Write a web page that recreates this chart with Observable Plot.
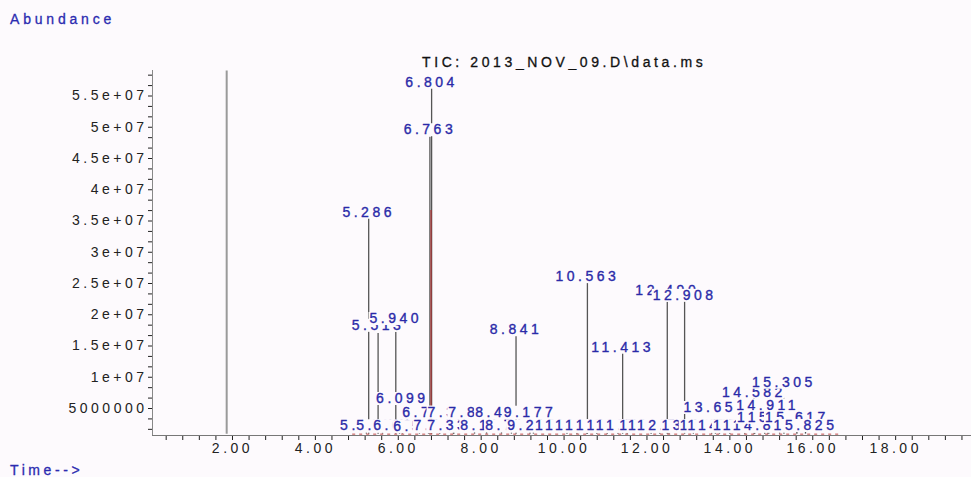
<!DOCTYPE html>
<html><head><meta charset="utf-8">
<script src="https://cdn.jsdelivr.net/npm/d3@7"></script>
<script src="https://cdn.jsdelivr.net/npm/@observablehq/plot@0.6"></script>
<style>
html,body{margin:0;padding:0;background:#fdfafd;}
#wrap{position:relative;width:971px;height:477px;overflow:hidden;font-family:"Liberation Sans",Arial,sans-serif;}
#chart svg{display:block;}
#chart svg text{letter-spacing:3.5px;}
.lbl{position:absolute;font-size:14px;line-height:16px;letter-spacing:3.6px;white-space:nowrap;-webkit-text-stroke:0.3px currentColor;}
</style></head><body>
<div id="wrap">
<div id="chart"></div>
<div class="lbl" style="left:10px;top:11px;color:#2b2bb0;letter-spacing:3.8px">Abundance</div>
<div class="lbl" style="left:10px;top:462px;color:#2b2bb0">Time--&gt;</div>
<div class="lbl" style="left:422px;top:54px;color:#111">TIC: 2013_NOV_09.D\data.ms</div>
</div>
<script>
// Labelled peaks: retention time (min), apex abundance, label anchor (abundance units)
const peakTimes   = [1.86, 5.286, 5.513, 5.940, 6.099, 6.763, 6.804, 8.841, 9.177, 10.563, 11.413, 12.490, 12.908, 13.651, 14.582, 14.911, 15.305, 15.617, 15.825];
const peakHeights = [59.0e6, 35.4e6, 17.0e6, 17.2e6, 3.0e6, 48.4e6, 56.2e6, 16.7e6, 2.0e6, 25.0e6, 13.85e6, 22.0e6, 22.4e6, 1.8e6, 6.6e6, 3.5e6, 6.75e6, 2.0e6, 1.2e6];
const peakLabelAt = [null, 36.4e6, 18.3e6, 19.4e6, 6.6e6, 49.6e6, 57.2e6, 17.6e6, 4.36e6, 26.1e6, 14.8e6, 23.8e6, 23.1e6, 5.16e6, 7.6e6, 5.48e6, 9.2e6, 3.6e6, 2.28e6];

// Small integrated peaks whose labels crowd near the baseline
const minorTimes   = [5.23, 5.62, 6.03, 6.51, 7.00, 7.33, 8.13, 8.73, 9.26, 10.07, 10.31, 10.55, 10.79, 11.04, 11.30, 11.52, 12.10, 12.31, 12.53, 13.12, 13.56, 13.75, 14.00, 14.36, 14.60, 14.84, 6.73, 7.34, 7.84, 8.49, 14.94, 15.20];
const minorLabelAt = [2.2e6, 2.2e6, 2.2e6, 2.1e6, 2.2e6, 2.2e6, 2.3e6, 2.2e6, 2.2e6, 2.2e6, 2.2e6, 2.2e6, 2.2e6, 2.2e6, 2.2e6, 2.2e6, 2.2e6, 2.2e6, 2.2e6, 2.2e6, 2.2e6, 2.2e6, 2.2e6, 2.2e6, 2.2e6, 2.2e6, 4.4e6, 4.4e6, 4.4e6, 4.4e6, 3.6e6, 3.6e6];
const minorHeights = [1.3e6, 1.3e6, 1.2e6, 1.2e6, 1.2e6, 1.2e6, 1.3e6, 1.2e6, 1.2e6, 1.2e6, 1.2e6, 1.2e6, 1.2e6, 1.2e6, 1.2e6, 1.2e6, 1.1e6, 1.1e6, 1.1e6, 1.1e6, 1.2e6, 1.2e6, 1.2e6, 1.2e6, 1.2e6, 1.2e6, 2.0e6, 1.8e6, 1.6e6, 1.6e6, 1.8e6, 1.8e6];

// Integration marker and baseline
const markerTimes = [6.79];
const markerTops = [36.7e6];
const baselineLevel = 0.9e6;
const integStart = 4.9, integEnd = 16.7;

// Axes
const xDomain = [0.07, 19.83];
const yDomain = [0.68e6, 59.08e6];
const xTickValues = [2, 4, 6, 8, 10, 12, 14, 16, 18];
const xTickLabels = ["2.00", "4.00", "6.00", "8.00", "10.00", "12.00", "14.00", "16.00", "18.00"];
const yTickValues = [5e6, 1e7, 1.5e7, 2e7, 2.5e7, 3e7, 3.5e7, 4e7, 4.5e7, 5e7, 5.5e7];
const yTickLabels = ["5000000", "1e+07", "1.5e+07", "2e+07", "2.5e+07", "3e+07", "3.5e+07", "4e+07", "4.5e+07", "5e+07", "5.5e+07"];

const xMinorTicks = d3.range(1, 50).map(i => i * 0.4);
const yMinorTicks = d3.range(1, 36).map(i => i * 5e6 / 3);
const fmtX = v => { const k = xTickValues.findIndex(t => Math.abs(t - v) < 1e-6); return k >= 0 ? xTickLabels[k] : ""; };
const fmtY = v => { const k = yTickValues.findIndex(t => Math.abs(t - v) < 1); return k >= 0 ? yTickLabels[k] : ""; };

const peaks = peakTimes.map((t, i) => ({t, h: peakHeights[i], main: i > 0}))
  .concat(minorTimes.map((t, i) => ({t, h: minorHeights[i], main: true})));
const labels = peakTimes.map((t, i) => ({t, at: peakLabelAt[i], label: t.toFixed(3)}))
  .filter(d => d.at != null)
  .concat(minorTimes.map((t, i) => ({t, at: minorLabelAt[i], label: t.toFixed(3)})))
  .sort((a, b) => a.t - b.t);
const markers = markerTimes.map((t, i) => ({t, top: markerTops[i]}));

const plot = Plot.plot({
  width: 971, height: 477,
  marginLeft: 152, marginRight: 0, marginTop: 70, marginBottom: 42,
  style: {background: "transparent", fontFamily: "Liberation Sans, Arial, sans-serif", fontSize: "14px", color: "#222"},
  x: {domain: xDomain, ticks: xMinorTicks, tickFormat: fmtX, tickSize: 5, tickPadding: 3, label: null},
  y: {domain: yDomain, ticks: yMinorTicks, tickFormat: fmtY, tickSize: 4, tickPadding: 1, label: null},
  marks: [
    Plot.ruleX([xDomain[0]], {stroke: "#888"}),
    Plot.ruleX(peaks, {filter: d => !d.main, x: "t", y1: baselineLevel, y2: "h", stroke: "#9a9a9a", strokeWidth: 2}),
    Plot.ruleX(peaks, {filter: d => d.main, x: "t", y1: baselineLevel, y2: "h", stroke: "#555", strokeWidth: 1.3}),
    Plot.ruleX(markers, {x: "t", y1: baselineLevel, y2: "top", stroke: "#b03030", strokeWidth: 1.2}),
    Plot.ruleY([yDomain[0]], {stroke: "#777"}),
    Plot.ruleY([baselineLevel], {x1: integStart, x2: integEnd, stroke: "#c04848", strokeDasharray: "3,4", strokeWidth: 1}),
    Plot.text(labels, {x: "t", y: "at", text: "label", fill: "#2a2aa8", stroke: "#2a2aa8", strokeWidth: 0.35, fontSize: 14, ariaDescription: "peak-labels"})
  ]
});
document.getElementById("chart").append(plot);

// Each peak label is drawn on its own background box, so later labels hide earlier ones
const svgNS = "http://www.w3.org/2000/svg";
let texts = plot.querySelectorAll('g[aria-description="peak-labels"] text');
if (!texts.length) texts = plot.querySelectorAll('g[aria-label="text"] text');
texts.forEach(tx => {
  const bb = tx.getBBox();
  const r = document.createElementNS(svgNS, "rect");
  r.setAttribute("x", bb.x - 1);
  r.setAttribute("y", bb.y + 2);
  r.setAttribute("width", bb.width);
  r.setAttribute("height", Math.max(0, bb.height - 3));
  r.setAttribute("fill", "#fdfafd");
  r.setAttribute("stroke", "none");
  const tr = tx.getAttribute("transform");
  if (tr) r.setAttribute("transform", tr);
  tx.parentNode.insertBefore(r, tx);
});
</script>
</body></html>
